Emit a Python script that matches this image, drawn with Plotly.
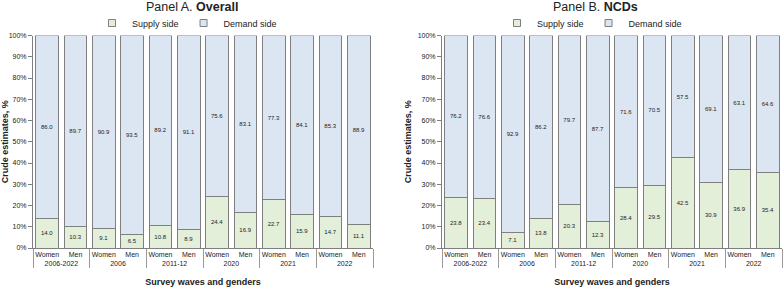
import plotly.graph_objects as go

waves = ["2006-2022", "2006", "2011-12", "2020", "2021", "2022"]
genders = ["Women", "Men"]

supply_a = [14.0, 10.3, 9.1, 6.5, 10.8, 8.9, 24.4, 16.9, 22.7, 15.9, 14.7, 11.1]
demand_a = [86.0, 89.7, 90.9, 93.5, 89.2, 91.1, 75.6, 83.1, 77.3, 84.1, 85.3, 88.9]
supply_b = [23.8, 23.4, 7.1, 13.8, 20.3, 12.3, 28.4, 29.5, 42.5, 30.9, 36.9, 35.4]
demand_b = [76.2, 76.6, 92.9, 86.2, 79.7, 87.7, 71.6, 70.5, 57.5, 69.1, 63.1, 64.6]

outer = [w for w in waves for g in genders]
inner = [g for w in waves for g in genders]
xcat = [outer, inner]

SUPPLY_C = "#e3efd9"
DEMAND_C = "#dce6f2"
EDGE = "#7f7f7f"
FONT = "Liberation Sans Narrow, Liberation Sans, Arial, sans-serif"
W, H = 784, 290

fig = go.Figure()

def add_panel(sup, dem, xa, ya, leg):
    for name, vals, col in (("Supply side", sup, SUPPLY_C), ("Demand side", dem, DEMAND_C)):
        fig.add_trace(go.Bar(
            x=xcat, y=vals, name=name, marker=dict(color=col, line=dict(color=EDGE, width=1)),
            text=[f"{v:.1f}" for v in vals], textposition="inside", insidetextanchor="middle",
            textangle=0, constraintext="none",
            textfont=dict(size=6, color="#222222", family=FONT),
            xaxis=xa, yaxis=ya, showlegend=False, hoverinfo="skip"))
    for name, col in (("Supply side", SUPPLY_C), ("Demand side", DEMAND_C)):
        fig.add_trace(go.Scatter(
            x=[None], y=[None], mode="markers", name=name,
            marker=dict(symbol="square", size=7, color=col, line=dict(color=EDGE, width=1)),
            xaxis=xa, yaxis=ya, legend=leg, hoverinfo="skip"))

add_panel(supply_a, demand_a, "x", "y", "legend")
add_panel(supply_b, demand_b, "x2", "y2", "legend2")

ytop, ybot = 35.5, 248
ydom = [(H - ybot) / H, (H - ytop) / H]

xaxis_common = dict(
    type="multicategory", showline=True, linecolor=EDGE, linewidth=1,
    showdividers=True, dividercolor="#9a9a9a", dividerwidth=1,
    tickfont=dict(size=7, color="#222222", family=FONT), ticks="", tickangle=0,
    automargin=False,
    title=dict(text="<b>Survey waves and genders</b>", font=dict(size=9, color="#222222", family=FONT), standoff=12),
)
yaxis_common = dict(
    range=[0, 100], dtick=10, ticksuffix="%", ticks="outside", ticklen=4, tickcolor=EDGE,
    showline=True, linecolor=EDGE, linewidth=1, showgrid=False, zeroline=False,
    tickfont=dict(size=7, color="#222222", family=FONT), automargin=False,
    title=dict(text="<b>Crude estimates, %</b>", font=dict(size=9, color="#222222", family=FONT), standoff=4),
)

leg_common = dict(orientation="h", xanchor="center", y=1 - 23 / H, yanchor="middle",
                  font=dict(size=9, family=FONT), bgcolor="rgba(0,0,0,0)",
                  itemsizing="trace", itemwidth=30, traceorder="normal", tracegroupgap=0)

fig.update_layout(
    width=W, height=H, margin=dict(l=0, r=0, t=0, b=0, autoexpand=False),
    paper_bgcolor="white", plot_bgcolor="white",
    barmode="stack", bargap=0.2,
    font=dict(family=FONT, color="#222222"),
    xaxis=dict(domain=[33 / W, 373 / W], anchor="y", **xaxis_common),
    yaxis=dict(domain=ydom, anchor="x", **yaxis_common),
    xaxis2=dict(domain=[442 / W, 782 / W], anchor="y2", **xaxis_common),
    yaxis2=dict(domain=ydom, anchor="x2", **yaxis_common),
    legend=dict(x=187 / W, **leg_common),
    legend2=dict(x=592 / W, **leg_common),
    annotations=[
        dict(text="Panel A. <b>Overall</b>", x=192 / W, y=1 - 7 / H, xref="paper", yref="paper",
             xanchor="center", yanchor="middle", showarrow=False, font=dict(size=12.5, family=FONT)),
        dict(text="Panel B. <b>NCDs</b>", x=595 / W, y=1 - 7 / H, xref="paper", yref="paper",
             xanchor="center", yanchor="middle", showarrow=False, font=dict(size=12.5, family=FONT)),
    ],
)

fig.write_html("out.html", config={"displayModeBar": False},
               post_script="document.body.style.margin='0';document.body.style.overflow='hidden';")
